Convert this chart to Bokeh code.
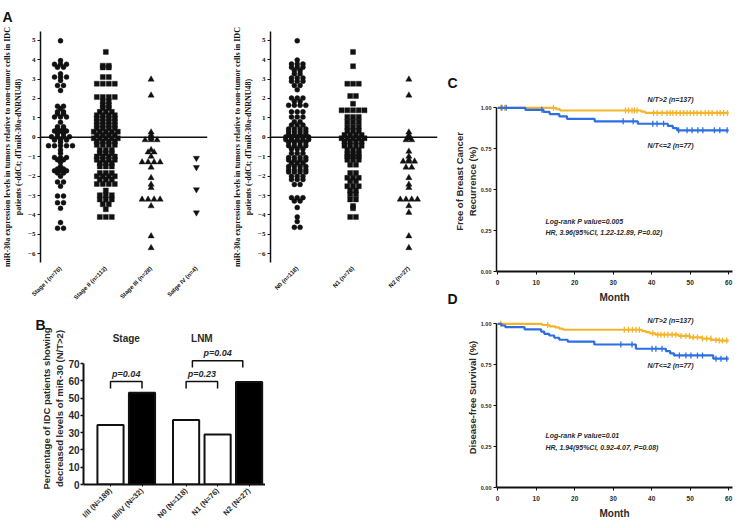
import numpy as np
from bokeh.plotting import figure
from bokeh.layouts import row, column
from bokeh.models import (Range1d, Span, Label, FixedTicker, GridBox, NumeralTickFormatter)
from bokeh.embed import file_html
from bokeh.resources import INLINE

# ---------------- Panel A: miR-30a -ddCt per patient ----------------
stage_labels = ["Stage I (n=76)", "Stage II (n=113)", "Stage III (n=28)", "Satge IV (n=4)"]
stage_i = [4.97, 3.95, 3.76, 3.76, 3.76, 3.61, 3.61, 3.27, 3.10, 3.10, 3.10, 2.93, 2.67, 2.67, 2.41,
           1.60, 1.60, 1.48, 1.31, 1.31, 1.21, 1.21, 1.05, 1.05, 1.05, 0.77, 0.54, 0.54, 0.44, 0.44,
           0.32, 0.32, 0.32, 0.20, 0.20, 0.03, 0.03, 0.03, 0.03, -0.14, -0.14, -0.14, -0.26,
           -0.43, -0.43, -0.43, -0.43, -0.43, -0.65, -0.82, -1.04, -1.04, -1.04, -1.16, -1.16, -1.28,
           -1.50, -1.63, -1.63, -1.72, -1.72, -1.72, -1.84, -1.84, -2.01, -2.30, -2.30, -2.52,
           -3.03, -3.03, -3.37, -3.37, -3.66, -4.39, -4.68, -4.68]
stage_ii = [4.40, 3.69, 3.69, 3.60, 3.60, 3.10, 3.10, 2.76, 2.76, 2.76, 2.76,
            2.07, 2.07, 2.07, 2.07, 1.85, 1.85, 1.65, 1.65, 1.51, 1.51, 1.31, 1.31, 1.31,
            1.14, 1.14, 1.14, 1.14, 0.97, 0.97, 0.97, 0.97, 0.80, 0.80, 0.80, 0.80,
            0.63, 0.63, 0.63, 0.63, 0.46, 0.46, 0.46, 0.46, 0.29, 0.29, 0.29, 0.29, 0.29,
            0.12, 0.12, 0.12, 0.12, -0.05, -0.05, -0.05, -0.05, -0.05, -0.22, -0.22, -0.22, -0.22,
            -0.39, -0.39, -0.39, -0.39, -0.65, -0.65, -0.65, -0.82, -0.82, -0.82,
            -0.99, -0.99, -0.99, -0.99, -1.16, -1.16, -1.16, -1.16, -1.33, -1.33, -1.33,
            -1.50, -1.50, -1.50, -1.84, -1.84, -1.84, -2.01, -2.01, -2.01, -2.01,
            -2.18, -2.18, -2.18, -2.40, -2.40, -2.40, -2.40, -2.74, -2.98, -2.98, -2.98,
            -3.20, -3.20, -3.20, -3.45, -3.45, -3.71, -4.10, -4.10, -4.10]
stage_iii = [2.98, 2.16, 0.26, 0.12, 0.03, -0.05, -0.14, -0.14, -0.14, -0.65, -0.77, -0.77,
             -0.99, -1.28, -1.28, -1.28, -1.28, -1.55, -2.09, -2.43, -2.60,
             -3.20, -3.20, -3.20, -3.20, -3.54, -5.09, -5.70]
stage_iv = [-1.07, -1.55, -2.69, -3.88]

lnm_labels = ["N0 (n=118)", "N1 (n=76)", "N2 (n=27)"]
n0 = [4.97, 3.98, 3.78, 3.78, 3.78, 3.61, 3.61, 3.61, 3.44, 3.44, 3.27, 3.27,
      3.06, 3.06, 3.06, 2.89, 2.89, 2.89, 2.67, 2.67, 2.45,
      2.02, 2.02, 2.02, 1.85, 1.85, 1.65, 1.65, 1.65, 1.65, 1.31, 1.31, 1.31,
      1.05, 1.05, 1.05, 0.80, 0.80, 0.63, 0.63, 0.63, 0.43, 0.43, 0.43, 0.43,
      0.29, 0.29, 0.29, 0.29, 0.15, 0.15, 0.15, 0.15, 0.02, 0.02, 0.02, 0.02, 0.02,
      -0.12, -0.12, -0.12, -0.12, -0.12, -0.26, -0.26, -0.26, -0.26,
      -0.43, -0.43, -0.43, -0.43, -0.60, -0.60, -0.60, -0.82, -0.82, -0.82,
      -1.04, -1.04, -1.04, -1.04, -1.17, -1.17, -1.17, -1.17, -1.33, -1.33, -1.33,
      -1.50, -1.50, -1.50, -1.50, -1.67, -1.67, -1.67, -1.67, -1.79, -1.79, -1.79, -1.79,
      -2.01, -2.01, -2.01, -2.18, -2.18, -2.18, -2.43, -2.43,
      -3.11, -3.11, -3.11, -3.28, -3.28, -3.62, -4.10, -4.34, -4.64, -4.64]
n1 = [4.40, 3.66, 2.76, 2.76, 2.76, 2.13, 2.13, 1.73, 1.39, 1.39, 1.39, 1.39, 1.39,
      1.05, 1.05, 1.05, 0.80, 0.80, 0.80, 0.54, 0.54, 0.54, 0.32, 0.32, 0.32,
      0.12, 0.12, 0.12, 0.12, -0.05, -0.05, -0.05, -0.05, -0.05, -0.22, -0.22, -0.22, -0.22,
      -0.43, -0.43, -0.43, -0.43, -0.65, -0.65, -0.65, -0.87, -0.87, -0.87,
      -0.99, -0.99, -0.99, -1.16, -1.16, -1.16, -1.41, -1.41, -1.84, -1.84,
      -2.09, -2.09, -2.09, -2.26, -2.26, -2.52, -2.52, -2.52, -2.74, -2.74,
      -2.94, -2.94, -3.20, -3.20, -3.54, -3.66, -4.10, -4.10]
n2 = [2.98, 2.16, 0.26, 0.12, 0.00, -0.05, -0.14, -0.14, -0.73, -0.99, -1.16,
      -1.24, -1.24, -1.24, -1.55, -1.55, -2.09, -2.43, -2.60,
      -3.20, -3.20, -3.20, -3.20, -3.54, -3.88, -5.09, -5.70]

# ---------------- Panel B: share of patients with N/T>2 ----------------
bar_labels = ["I/II (N=189)", "III/IV (N=32)", "N0 (N=118)", "N1 (N=76)", "N2 (N=27)"]
bar_groups = [0, 0, 1, 1, 1]
bar_pct = [34.4, 53.1, 37.3, 28.9, 59.3]
bar_dark = [False, True, False, False, True]
group_titles = ["Stage", "LNM"]
bar_pairs = [(0, 1), (2, 3), (2, 4)]
pair_pvalues = ["p=0.04", "p=0.23", "p=0.04"]

# ---------------- Panels C/D: Kaplan-Meier estimates ----------------
c_hi_t = [0, 15.2, 16.2, 37.3, 38.3]
c_hi_s = [1.0, 0.992, 0.984, 0.977, 0.969]
c_hi_cens = [0.8, 1.8, 14.5, 33.2, 34.0, 34.9, 35.5, 36.2, 40.5, 41.4, 42.7, 44.0, 44.8, 45.5,
             46.4, 47.4, 48.3, 49.2, 50.0, 50.9, 51.8, 52.8, 53.9, 54.8, 55.7, 57.0, 57.8, 58.7, 59.7]
c_lo_t = [0, 7.2, 11.9, 13.5, 16.0, 18.0, 25.2, 36.4, 44.2, 45.5, 46.6]
c_lo_s = [1.0, 0.988, 0.975, 0.962, 0.948, 0.933, 0.918, 0.903, 0.890, 0.876, 0.863]
c_lo_cens = [1.1, 2.2, 11.5, 32.6, 35.2, 40.3, 41.4, 43.1, 47.0, 49.2, 50.5, 52.0, 53.3,
             56.3, 57.7, 59.6]
c_notes = ["N/T>2 (n=137)", "N/T<=2 (n=77)", "Log-rank P value=0.005",
           "HR, 3.96(95%CI, 1.22-12.89, P=0.02)"]

d_hi_t = [0, 11.5, 13.5, 15.0, 16.0, 17.0, 37.5, 38.5, 39.5, 41.0, 47.0, 50.0, 53.0, 55.5, 57.5]
d_hi_s = [1.0, 0.993, 0.985, 0.978, 0.971, 0.964, 0.956, 0.949, 0.942, 0.934, 0.926, 0.918,
          0.910, 0.902, 0.898]
d_hi_cens = [0.8, 13.0, 32.9, 34.0, 35.0, 35.9, 36.8, 40.3, 41.6, 42.4, 43.3, 44.2, 45.3, 46.3,
             47.6, 48.9, 49.8, 50.8, 51.9, 53.2, 54.3, 55.4, 56.7, 57.6, 58.4, 59.5]
d_lo_t = [0, 1.0, 2.0, 7.0, 11.3, 12.1, 13.4, 14.7, 16.0, 18.2, 25.1, 35.9, 43.7, 44.8, 45.8, 56.0]
d_lo_s = [1.0, 0.990, 0.980, 0.966, 0.953, 0.939, 0.929, 0.915, 0.903, 0.892, 0.874, 0.848,
          0.834, 0.820, 0.807, 0.787]
d_lo_cens = [32.0, 34.9, 40.1, 41.1, 42.7, 47.2, 48.9, 50.2, 51.9, 53.2, 56.7, 58.0, 59.5]
d_notes = ["N/T>2 (n=137)", "N/T<=2 (n=77)", "Log-rank P value=0.01",
           "HR, 1.94(95%CI, 0.92-4.07, P=0.08)"]

# ---------------- styling ----------------
INK = "#111111"
GREY = "#2a2a2a"
YELLOW = "#f4b52b"
BLUE = "#2c6fe3"
SANS = "Liberation Sans"
SERIF = "Liberation Serif"
NARROW = "Liberation Sans Narrow, Liberation Sans"


def base_figure(width, height, xr, yr, left, right, top, bottom, letter=None, letter_dx=0,
                letter_gap=0):
    p = figure(width=width, height=height, x_range=Range1d(*xr), y_range=Range1d(*yr),
               output_backend="svg", toolbar_location=None,
               min_border_left=left, min_border_right=right,
               min_border_top=top, min_border_bottom=bottom)
    p.grid.visible = False
    p.outline_line_color = None
    for ax in (p.xaxis[0], p.yaxis[0]):
        ax.minor_tick_line_color = None
        ax.major_tick_in = 0
        ax.axis_line_color = INK
        ax.major_tick_line_color = INK
    if letter:
        p.title.text = letter
        p.title.align = "left"
        p.title.offset = letter_dx
        p.title.standoff = letter_gap
        p.title.text_font = SANS
        p.title.text_font_style = "bold"
        p.title.text_font_size = "14px"
        p.title.text_color = INK
    return p


def row_offsets(vals, spacing=6.0):
    """Spread markers that share a value symmetrically, GraphPad style."""
    vals = np.asarray(vals, float)
    offs = np.zeros(len(vals))
    for v in np.unique(vals):
        idx = np.where(vals == v)[0]
        offs[idx] = (np.arange(len(idx)) - (len(idx) - 1) / 2) * spacing
    return offs


# ---------------- Panel A ----------------
Y_LO, Y_HI = -6.45, 5.45
A_H, A_TOP, A_BOT = 305, 30, 41
A_YLABEL = ("miR-30a expression levels in tumors relative to non-tumor cells in IDC\n"
            "patients (-ddCt; dTmiR-30a-dNRNU48)")


def dot_panel(groups, markers, labels, width, left, right, gap_px, first_px, letter=None):
    x0 = 1 - first_px / gap_px
    x1 = x0 + (width - left - right) / gap_px
    p = base_figure(width, A_H, (x0, x1), (Y_LO, Y_HI), left, right, A_TOP, A_BOT,
                    letter=letter, letter_dx=-38, letter_gap=13)
    p.add_layout(Span(location=0, dimension="width", line_color=INK, line_width=1.6))
    for k, (vals, mk) in enumerate(zip(groups, markers)):
        xs = (k + 1) + row_offsets(vals) / gap_px
        size = 6.2 if "triangle" in mk else 5.0
        p.scatter(xs, vals, marker=mk, size=size, fill_color=INK, line_color=INK,
                  line_width=0.4)
    ax = p.yaxis[0]
    ax.ticker = FixedTicker(ticks=list(range(-6, 6)))
    ax.axis_line_width = 1.5
    ax.major_tick_out = 3
    ax.major_tick_line_width = 1.2
    ax.major_label_text_font = SERIF
    ax.major_label_text_font_style = "bold"
    ax.major_label_text_font_size = "7px"
    ax.major_label_text_color = INK
    ax.major_label_standoff = 2
    ax.axis_label = A_YLABEL
    ax.axis_label_text_font = SERIF
    ax.axis_label_text_font_style = "bold"
    ax.axis_label_text_font_size = "8px"
    ax.axis_label_text_color = INK
    ax.axis_label_standoff = 2
    xa = p.xaxis[0]
    xa.ticker = FixedTicker(ticks=list(range(1, len(labels) + 1)))
    xa.major_label_overrides = {k + 1: lab for k, lab in enumerate(labels)}
    xa.major_label_orientation = np.pi / 4
    xa.axis_line_color = None
    xa.major_tick_line_color = None
    xa.major_tick_out = 0
    xa.major_label_standoff = 5
    xa.major_label_text_font = NARROW
    xa.major_label_text_font_style = "bold"
    xa.major_label_text_font_size = "6px"
    xa.major_label_text_color = INK
    return p


a1 = dot_panel([stage_i, stage_ii, stage_iii, stage_iv],
               ["circle", "square", "triangle", "inverted_triangle"],
               stage_labels, 230, 40, 23, 45.3, 20, letter="A")
a2 = dot_panel([n0, n1, n2], ["circle", "square", "triangle"],
               lnm_labels, 210, 32, 3, 58.5, 28)

# ---------------- Panel B ----------------
B_W, B_H, B_L, B_R, B_T, B_B = 265, 223, 83, 0, 27, 44
B_STEP = 31.5
B_YMAX = 88
bar_x = [i + 1 + g * 0.4 for i, g in enumerate(bar_groups)]
bx0 = 1 - 27 / B_STEP
bx1 = bx0 + (B_W - B_L - B_R) / B_STEP
pb = base_figure(B_W, B_H, (bx0, bx1), (0, B_YMAX), B_L, B_R, B_T, B_B,
                 letter="B", letter_dx=-48, letter_gap=0)
pb.vbar(x=bar_x, top=bar_pct, width=0.83,
        fill_color=["black" if d else "white" for d in bar_dark],
        line_color=INK, line_width=2)

by = pb.yaxis[0]
by.ticker = FixedTicker(ticks=list(range(0, 71, 10)))
by.bounds = (0, 70)
by.axis_line_width = 2
by.major_tick_out = 3
by.major_tick_line_width = 1.5
by.major_label_text_font = SANS
by.major_label_text_font_style = "bold"
by.major_label_text_font_size = "10px"
by.major_label_text_color = GREY
by.major_label_standoff = 1
by.axis_label = "Percentage of IDC patients showing\ndecreased levels of miR-30 (N/T>2)"
by.axis_label_text_font = SANS
by.axis_label_text_font_style = "bold"
by.axis_label_text_font_size = "9.5px"
by.axis_label_text_color = GREY
by.axis_label_standoff = 0

bxa = pb.xaxis[0]
bxa.ticker = FixedTicker(ticks=bar_x)
bxa.major_label_overrides = {x: lab for x, lab in zip(bar_x, bar_labels)}
bxa.major_label_orientation = np.pi / 4
bxa.axis_line_width = 2
bxa.major_tick_out = 2
bxa.major_label_standoff = 3
bxa.major_label_text_font = NARROW
bxa.major_label_text_font_style = "bold"
bxa.major_label_text_font_size = "7.5px"
bxa.major_label_text_color = GREY

for g, title in enumerate(group_titles):
    gx = [x for x, gg in zip(bar_x, bar_groups) if gg == g]
    pb.add_layout(Label(x=(gx[0] + gx[1]) / 2, y=84.4, text=title, text_font=SANS,
                        text_font_style="bold", text_font_size="10px", text_color=GREY,
                        text_align="center", text_baseline="middle"))

bracket_xs, bracket_ys = [], []
for (i, j), ptxt in zip(bar_pairs, pair_pvalues):
    nested = j - i > 1
    level = 71.7 if nested else 59.6
    inset = 0.2 if nested else 0.0
    xa_, xb_ = bar_x[i] + inset, bar_x[j] - inset
    bracket_xs.append([xa_, xa_, xb_, xb_])
    bracket_ys.append([level - 4, level, level, level - 4])
    pb.add_layout(Label(x=(xa_ + xb_) / 2, y=level + 4.4, text=ptxt, text_font=SANS,
                        text_font_style="bold italic", text_font_size="9px",
                        text_color=GREY, text_align="center", text_baseline="middle"))
pb.multi_line(bracket_xs, bracket_ys, line_color=INK, line_width=1.5)

# ---------------- Panels C / D ----------------
KM_W, KM_L, KM_R = 302, 56, 10
KM_X = (-0.3, 61.0)
KM_Y = (0, 1.1)


def km_panel(height, top, bottom, hi, lo, notes, ylabel, note_y, letter):
    p = base_figure(KM_W, height, KM_X, KM_Y, KM_L, KM_R, top, bottom,
                    letter=letter, letter_dx=-49, letter_gap=1)
    p.border_fill_alpha = 0
    for t, s, cens, color in ((*hi, YELLOW), (*lo, BLUE)):
        xs = list(t) + [60]
        ys = list(s) + [s[-1]]
        p.step(xs, ys, mode="after", line_color=color, line_width=2.2)
        idx = np.searchsorted(t, cens, side="right") - 1
        p.scatter(cens, np.asarray(s)[idx], marker="dash", angle=np.pi / 2, size=6,
                  line_color=color, line_width=1.3)
    xa = p.xaxis[0]
    xa.ticker = FixedTicker(ticks=list(range(0, 61, 10)))
    xa.axis_line_width = 2
    xa.major_tick_out = 3
    xa.major_label_text_font = SANS
    xa.major_label_text_font_style = "bold"
    xa.major_label_text_font_size = "6.5px"
    xa.major_label_text_color = GREY
    xa.major_label_standoff = 5
    xa.axis_label = "Month"
    xa.axis_label_text_font = SANS
    xa.axis_label_text_font_style = "bold"
    xa.axis_label_text_font_size = "10px"
    xa.axis_label_text_color = GREY
    xa.axis_label_standoff = 4
    ya = p.yaxis[0]
    ya.ticker = FixedTicker(ticks=[0, 0.25, 0.5, 0.75, 1.0])
    ya.bounds = (0, 1)
    ya.formatter = NumeralTickFormatter(format="0.00")
    ya.axis_line_width = 1.5
    ya.major_tick_out = 3
    ya.major_label_text_font = SANS
    ya.major_label_text_font_style = "bold"
    ya.major_label_text_font_size = "5.5px"
    ya.major_label_text_color = GREY
    ya.major_label_standoff = 2
    ya.axis_label = ylabel
    ya.axis_label_text_font = SANS
    ya.axis_label_text_font_style = "bold"
    ya.axis_label_text_font_size = "9.5px"
    ya.axis_label_text_color = GREY
    ya.axis_label_standoff = 0
    for k, txt in enumerate(notes):
        centred = k < 2
        p.add_layout(Label(x=44.9 if centred else 12.4, y=note_y[k], text=txt,
                           text_font=NARROW, text_font_style="bold italic",
                           text_font_size="7px", text_color=GREY,
                           text_align="center" if centred else "left",
                           text_baseline="middle"))
    return p


pc = km_panel(305, 91, 33, (c_hi_t, c_hi_s, c_hi_cens), (c_lo_t, c_lo_s, c_lo_cens),
              c_notes, "Free of Breast Cancer\nRecurrence (%)", [1.05, 0.772, 0.304, 0.237], "C")
pd_ = km_panel(240, 18, 41, (d_hi_t, d_hi_s, d_hi_cens), (d_lo_t, d_lo_s, d_lo_cens),
               d_notes, "Disease-free Survival (%)", [1.02, 0.748, 0.316, 0.243], "D")

# C and D share a 17 px band so that the "D" tag sits beside C's "Month" label
right = GridBox(children=[(pc, 0, 0, 2, 1), (pd_, 1, 0, 2, 1)],
                rows=["288px", "17px", "223px"], cols=["302px"], spacing=0)
left = column(row(a1, a2), pb)
layout = row(left, right)

open("out.html", "w").write(file_html(layout, INLINE))
